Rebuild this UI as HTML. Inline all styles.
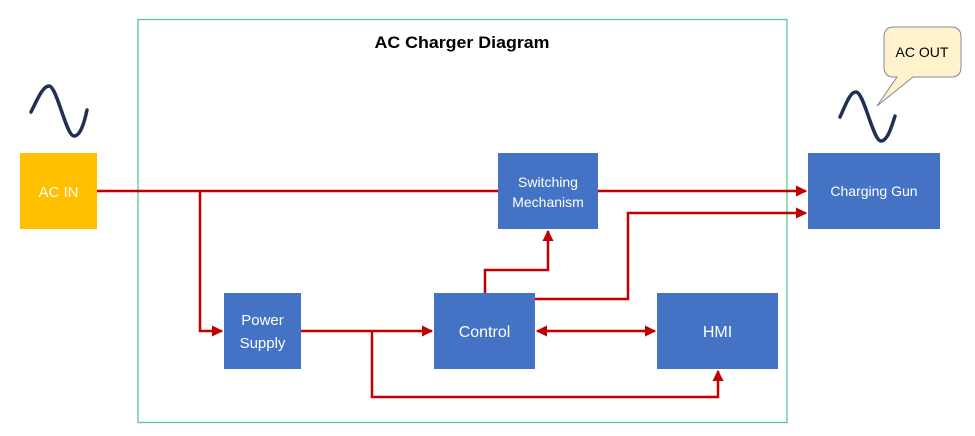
<!DOCTYPE html>
<html><head><meta charset="utf-8"><style>
html,body{margin:0;padding:0;background:#fff;}
svg{display:block;}
text{font-family:"Liberation Sans",sans-serif;}
</style></head><body>
<svg width="975" height="436" viewBox="0 0 975 436" xmlns="http://www.w3.org/2000/svg">
<defs>
<marker id="a" viewBox="0 0 10 10" refX="9" refY="5" markerWidth="4.5" markerHeight="4.5" orient="auto-start-reverse" markerUnits="strokeWidth">
<path d="M0,0 L10,5 L0,10 z" fill="#C00000"/></marker>
</defs>
<rect x="138" y="19.5" width="649" height="403" fill="none" stroke="#5BC98A" stroke-width="1.3"/>
<text x="462" y="48" font-size="17" font-weight="bold" text-anchor="middle" textLength="175" lengthAdjust="spacingAndGlyphs">AC Charger Diagram</text>

<path d="M31,112 C38,98 43,86 49,86 C57,86 66,136 74,136 C80,136 84,124 87,110" fill="none" stroke="#1F3050" stroke-width="3.5" stroke-linecap="round"/>
<path d="M840,117 C846,104 850,92 856,92 C864,92 873,141 881,141 C887,141 891,129 895,116" fill="none" stroke="#1F3050" stroke-width="3.5" stroke-linecap="round"/>

<path d="M884,55 L884,37 Q884,27 894,27 L951,27 Q961,27 961,37 L961,67 Q961,77 951,77 L913,77 L877,106 L897,77 L894,77 Q884,77 884,67 Z" fill="#FFF2CC" stroke="#7F8A99" stroke-width="1"/>
<text x="922" y="57" font-size="14" text-anchor="middle">AC OUT</text>

<g fill="none" stroke="#C00000" stroke-width="2.5">
<line x1="97" y1="191" x2="498" y2="191"/>
<line x1="598" y1="191" x2="806" y2="191" marker-end="url(#a)"/>
<polyline points="200,191 200,331 222,331" marker-end="url(#a)"/>
<line x1="301" y1="331" x2="432" y2="331" marker-end="url(#a)"/>
<polyline points="372,331 372,397 718,397 718,371" marker-end="url(#a)"/>
<polyline points="485,293 485,270 548,270 548,231" marker-end="url(#a)"/>
<polyline points="535,299 628,299 628,213 806,213" marker-end="url(#a)"/>
<line x1="537" y1="331" x2="655" y2="331" marker-start="url(#a)" marker-end="url(#a)"/>
</g>

<rect x="20" y="153" width="77" height="76" fill="#FFC000"/>
<text x="58.5" y="197" font-size="15" fill="#fff" text-anchor="middle">AC IN</text>
<rect x="498" y="153" width="100" height="76" fill="#4472C4"/>
<text x="548" y="187" font-size="14" fill="#fff" text-anchor="middle">Switching</text>
<text x="548" y="207" font-size="14" fill="#fff" text-anchor="middle">Mechanism</text>
<rect x="808" y="153" width="132" height="76" fill="#4472C4"/>
<text x="874" y="196" font-size="14" fill="#fff" text-anchor="middle">Charging Gun</text>
<rect x="224" y="293" width="77" height="76" fill="#4472C4"/>
<text x="262.5" y="325" font-size="15" fill="#fff" text-anchor="middle">Power</text>
<text x="262.5" y="348" font-size="15" fill="#fff" text-anchor="middle">Supply</text>
<rect x="434" y="293" width="101" height="76" fill="#4472C4"/>
<text x="484.5" y="337" font-size="16" fill="#fff" text-anchor="middle">Control</text>
<rect x="657" y="293" width="121" height="76" fill="#4472C4"/>
<text x="717.5" y="337" font-size="16" fill="#fff" text-anchor="middle">HMI</text>
</svg>
</body></html>
